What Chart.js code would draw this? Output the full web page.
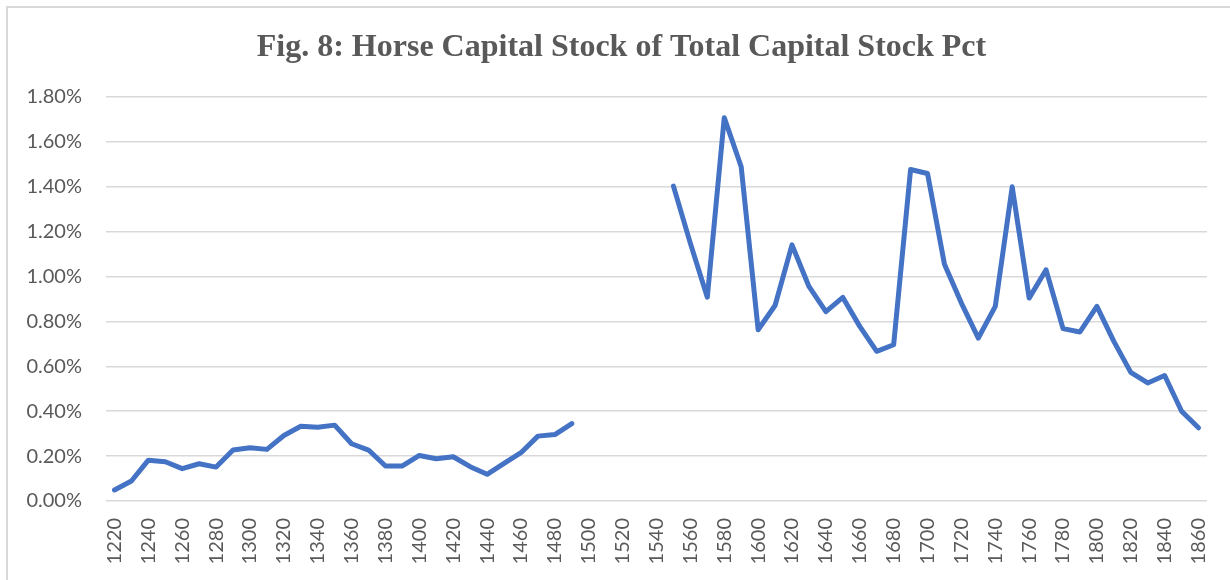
<!DOCTYPE html>
<html>
<head>
<meta charset="utf-8">
<script src="https://cdn.jsdelivr.net/npm/chart.js@4/dist/chart.umd.min.js"></script>
<style>
  html, body { margin: 0; padding: 0; background: #ffffff; }
  #wrap { position: relative; width: 1230px; height: 580px; overflow: hidden; }
  #frame { position: absolute; left: 6px; top: 6px; width: 1240px; height: 590px; border: 2px solid #d9d9d9; box-sizing: border-box; }
  #c { position: absolute; left: 0; top: 0; }
</style>
</head>
<body>
<div id="wrap">
  <div id="frame"></div>
  <canvas id="c" width="1230" height="580"></canvas>
</div>
<script>
const titleText = "Fig. 8: Horse Capital Stock of Total Capital Stock Pct";

const years = [];
for (let y = 1220; y <= 1860; y += 10) years.push(String(y));

// values in percent (%)
const medievalPct = [
  0.049, 0.089, 0.182, 0.175, 0.144, 0.166, 0.151, 0.227, 0.237, 0.230,
  0.292, 0.333, 0.329, 0.338, 0.255, 0.227, 0.156, 0.156, 0.203, 0.188,
  0.197, 0.153, 0.119, 0.168, 0.215, 0.289, 0.296, 0.345
]; // 1220-1490
const gapPct = [null, null, null, null, null]; // 1500-1540
const earlyModernPct = [
  1.403, 1.148, 0.908, 1.708, 1.489, 0.763, 0.871, 1.141, 0.956, 0.844,
  0.907, 0.778, 0.667, 0.696, 1.477, 1.459, 1.055, 0.882, 0.726, 0.867,
  1.400, 0.904, 1.030, 0.768, 0.753, 0.867, 0.711, 0.573, 0.526, 0.559,
  0.400, 0.326
]; // 1550-1860

const yTicks = [0, 0.2, 0.4, 0.6, 0.8, 1.0, 1.2, 1.4, 1.6, 1.8];

const series = medievalPct.concat(gapPct, earlyModernPct);

const textColor = '#595959';
const gridColor = '#d9d9d9';
const lineColor = '#4472C4';

// Title drawn centred on the chart frame (frame starts at x=6)
const frameTitle = {
  id: 'frameTitle',
  afterDraw(chart) {
    const ctx = chart.ctx;
    ctx.save();
    ctx.font = "bold 32px 'Liberation Serif', 'Times New Roman', serif";
    ctx.fillStyle = textColor;
    ctx.textAlign = 'center';
    ctx.textBaseline = 'alphabetic';
    ctx.fillText(titleText, 621.5, 56);
    ctx.restore();
  }
};

new Chart(document.getElementById('c'), {
  type: 'line',
  data: {
    labels: years,
    datasets: [{
      label: 'Horse capital stock share',
      data: series,
      borderColor: lineColor,
      backgroundColor: lineColor,
      borderWidth: 5,
      borderCapStyle: 'round',
      borderJoinStyle: 'round',
      pointRadius: 0,
      pointHoverRadius: 0,
      tension: 0,
      spanGaps: false,
      fill: false
    }]
  },
  plugins: [frameTitle],
  options: {
    responsive: false,
    animation: false,
    events: [],
    layout: { padding: { left: 0, right: 23, top: 97, bottom: 0 } },
    plugins: {
      legend: { display: false },
      tooltip: { enabled: false },
      title: { display: false }
    },
    scales: {
      x: {
        type: 'category',
        offset: true,
        grid: { display: false, drawTicks: false },
        border: { display: false },
        ticks: {
          autoSkip: false,
          maxRotation: 90,
          minRotation: 90,
          padding: 17,
          color: textColor,
          font: { family: "Lato, 'Liberation Sans', sans-serif", size: 20 },
          callback: function (v, i) { return i % 2 === 0 ? years[i] : ''; }
        },
        afterFit: function (scale) {
          scale.height = 79;
          scale.paddingLeft = 0;
          scale.paddingRight = 0;
        }
      },
      y: {
        min: 0,
        max: 1.8,
        afterBuildTicks: function (scale) { scale.ticks = yTicks.map(v => ({ value: v })); },
        grid: { color: gridColor, lineWidth: 1.5, drawTicks: false },
        border: { display: false },
        ticks: {
          padding: 24,
          color: textColor,
          font: { family: "Lato, 'Liberation Sans', sans-serif", size: 20 },
          callback: function (v) { return v.toFixed(2) + '%'; }
        },
        afterFit: function (scale) { scale.width = 106; }
      }
    }
  }
});
</script>
</body>
</html>
